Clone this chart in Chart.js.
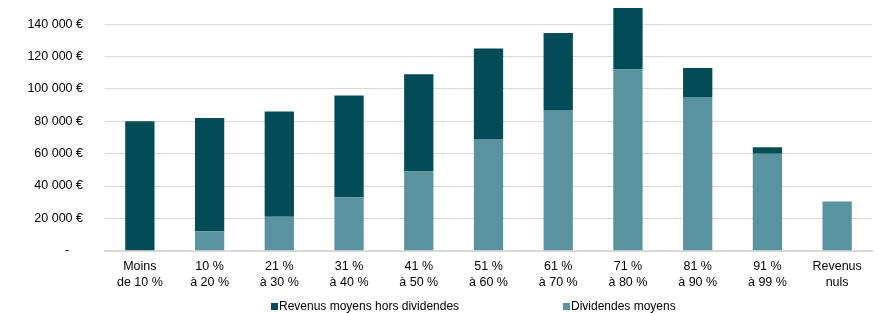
<!DOCTYPE html>
<html>
<head>
<meta charset="utf-8">
<script src="https://cdn.jsdelivr.net/npm/chart.js@4"></script>
<style>
  html, body { margin: 0; padding: 0; background: #fff; }
  #wrap { width: 877px; height: 313px; }
</style>
</head>
<body>
<div id="wrap"><canvas id="myChart"></canvas></div>
<script>
const categories = [
  ['Moins', 'de 10 %'], ['10 %', 'à 20 %'], ['21 %', 'à 30 %'], ['31 %', 'à 40 %'],
  ['41 %', 'à 50 %'], ['51 %', 'à 60 %'], ['61 %', 'à 70 %'], ['71 %', 'à 80 %'],
  ['81 %', 'à 90 %'], ['91 %', 'à 99 %'], ['Revenus', 'nuls']
];
const dividendes = [0, 12000, 21000, 33000, 49000, 69000, 87000, 112000, 95000, 60000, 30500];
const horsDividendes = [80000, 70000, 65000, 63000, 60000, 56000, 47500, 38000, 18000, 4000, 0];
const yTicks = [0, 20000, 40000, 60000, 80000, 100000, 120000, 140000];

const DARK = '#024c57';
const LIGHT = '#5a93a0';
const FONT = 'Liberation Sans, Arial, sans-serif';

const fmt = v => v === 0 ? '-    ' : v.toLocaleString('fr-FR').replace(/\s/g, ' ') + ' €';

// legend drawn by hand so the gap between the two items matches
const legendPlugin = {
  id: 'bottomLegend',
  afterDraw(chart) {
    const ctx = chart.ctx;
    const items = [
      { text: 'Revenus moyens hors dividendes', color: DARK, x: 271 },
      { text: 'Dividendes moyens', color: LIGHT, x: 563 }
    ];
    ctx.save();
    ctx.font = '12px ' + FONT;
    ctx.textBaseline = 'middle';
    items.forEach(it => {
      ctx.fillStyle = it.color;
      ctx.fillRect(it.x, 303, 7, 7);
      ctx.fillStyle = '#000';
      ctx.fillText(it.text, it.x + 8, 306.5);
    });
    ctx.restore();
  }
};

new Chart(document.getElementById('myChart'), {
  type: 'bar',
  data: {
    labels: categories,
    datasets: [
      { label: 'Dividendes moyens', data: dividendes, backgroundColor: LIGHT },
      { label: 'Revenus moyens hors dividendes', data: horsDividendes, backgroundColor: DARK }
    ]
  },
  options: {
    responsive: true,
    maintainAspectRatio: false,
    animation: false,
    layout: { padding: { top: 8, right: 5, bottom: 15, left: 0 } },
    datasets: { bar: { barPercentage: 0.42, categoryPercentage: 1 } },
    scales: {
      x: {
        stacked: true,
        grid: { display: false, drawTicks: false },
        border: { color: '#d9d9d9', width: 2 },
        ticks: { color: '#000', font: { family: FONT, size: 12.5, lineHeight: 1.25 }, padding: 8, maxRotation: 0, autoSkip: false }
      },
      y: {
        stacked: true,
        min: 0,
        max: 150000,
        afterFit: s => { s.width = 105; s.paddingTop = 0; s.paddingBottom = 0; },
        afterBuildTicks: s => { s.ticks = yTicks.map(v => ({ value: v })); },
        grid: { color: '#d9d9d9', lineWidth: 1, drawTicks: false },
        border: { display: false },
        ticks: { color: '#000', font: { family: FONT, size: 12.5 }, padding: 22, callback: v => fmt(v) }
      }
    },
    plugins: {
      legend: { display: false },
      tooltip: { enabled: false }
    }
  },
  plugins: [legendPlugin]
});
</script>
</body>
</html>
